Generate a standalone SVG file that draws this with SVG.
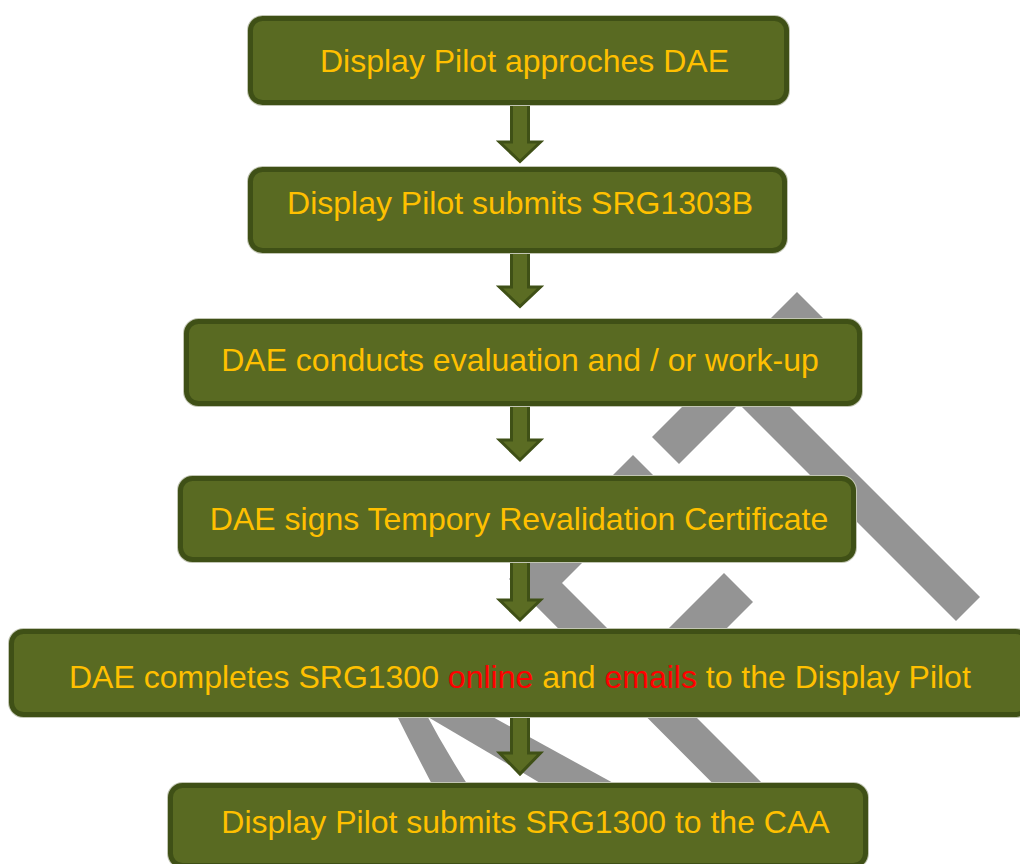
<svg xmlns="http://www.w3.org/2000/svg" width="1020" height="864" viewBox="0 0 1020 864">
<style>
.bg{fill:#949494}
.halo{fill:none;stroke:#c2c6b4;stroke-width:7}
.box{fill:#596a22;stroke:#3f5016;stroke-width:5}
.lbl{font-family:"Liberation Sans",Arial,sans-serif;font-size:32px;fill:#ffc000}
.red{fill:#ff0000}
.arr{fill:#5b6c23;stroke:#3f5016;stroke-width:3;stroke-linejoin:miter}
</style>
<rect width="1020" height="864" fill="#ffffff"/>
<g id="background-bars">
<polygon class="bg" points="797,292 824,319 679,464 652,437"/>
<polygon class="bg" points="690,355 738,355 980,597 956,621"/>
<polygon class="bg" points="633,455 661.5,483.5 562,583 839,860 814,885 509,579"/>
<polygon class="bg" points="724,573 753,602 665,690 607,690"/>
<path class="bg" d="M394,710 L424,710 Q445,750 471,790 L435,790 Q414,750 394,710 Z"/>
<polygon class="bg" points="416,710 480,710 626,790 552,790"/>
</g>
<g id="connectors">
<path class="arr" d="M511.5,104 H528.5 V142 H540.5 L520,161.5 L499.5,142 H511.5 Z"/>
<path class="arr" d="M511.5,252 H528.5 V287 H540.5 L520,306.5 L499.5,287 H511.5 Z"/>
<path class="arr" d="M511.5,405 H528.5 V440 H540.5 L520,460 L499.5,440 H511.5 Z"/>
<path class="arr" d="M511.5,561 H528.5 V600 H540.5 L520,620 L499.5,600 H511.5 Z"/>
<path class="arr" d="M511.5,716 H528.5 V753 H540.5 L520,774 L499.5,753 H511.5 Z"/>
</g>
<g id="node1">
<rect class="halo" x="250.5" y="18.5" width="536" height="84" rx="12"/>
<rect class="box" x="250.5" y="18.5" width="536" height="84" rx="12"/>
<text class="lbl" x="524.5" y="72" text-anchor="middle">Display Pilot approches DAE</text>
</g>
<g id="node2">
<rect class="halo" x="250.5" y="169.5" width="534" height="81" rx="12"/>
<rect class="box" x="250.5" y="169.5" width="534" height="81" rx="12"/>
<text class="lbl" x="520" y="214" text-anchor="middle">Display Pilot submits SRG1303B</text>
</g>
<g id="node3">
<rect class="halo" x="186.5" y="321.5" width="673" height="82" rx="12"/>
<rect class="box" x="186.5" y="321.5" width="673" height="82" rx="12"/>
<text class="lbl" x="520" y="371" text-anchor="middle">DAE conducts evaluation and / or work-up</text>
</g>
<g id="node4">
<rect class="halo" x="180.5" y="478.5" width="673" height="81" rx="12"/>
<rect class="box" x="180.5" y="478.5" width="673" height="81" rx="12"/>
<text class="lbl" x="519" y="530" text-anchor="middle">DAE signs Tempory Revalidation Certificate</text>
</g>
<g id="node5">
<rect class="halo" x="11.5" y="631.5" width="1016" height="83" rx="12"/>
<rect class="box" x="11.5" y="631.5" width="1016" height="83" rx="12"/>
<text class="lbl" x="69" y="688">DAE completes SRG1300 <tspan class="red">online</tspan> and <tspan class="red">emails</tspan> to the Display Pilot</text>
</g>
<g id="node6">
<rect class="halo" x="170.5" y="785.5" width="695" height="80" rx="12"/>
<rect class="box" x="170.5" y="785.5" width="695" height="80" rx="12"/>
<text class="lbl" x="525.5" y="833" text-anchor="middle">Display Pilot submits SRG1300 to the CAA</text>
</g>
</svg>
